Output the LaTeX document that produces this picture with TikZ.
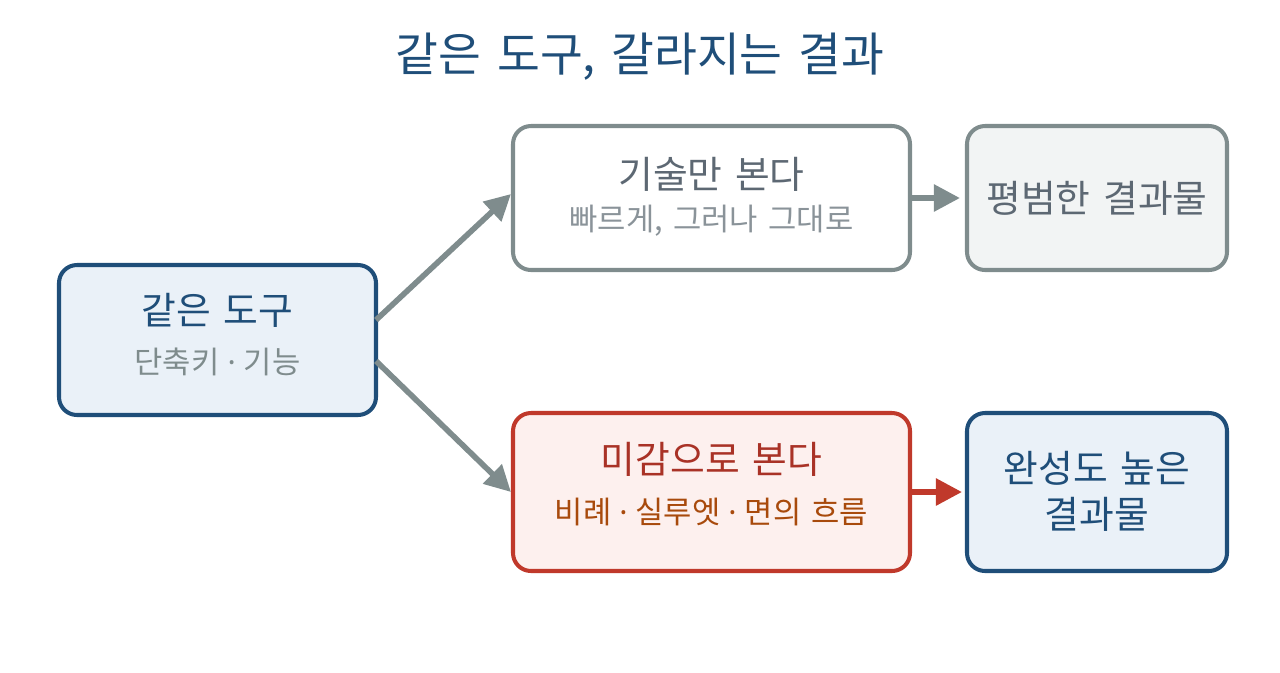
\documentclass[tikz,border=0pt]{standalone}
\usepackage{fontspec}
\setmainfont{Noto Sans CJK KR}[WordSpace=1.5]
\newfontfamily\latinfont{Noto Sans}
\usetikzlibrary{arrows.meta,calc}
\definecolor{navy}{HTML}{1F4E79}
\definecolor{lblue}{HTML}{EAF1F8}
\definecolor{gborder}{HTML}{7F8C8D}
\definecolor{gtext}{HTML}{5D6873}
\definecolor{gsub}{HTML}{8A9399}
\definecolor{lgray}{HTML}{F2F4F4}
\definecolor{rborder}{HTML}{C0392B}
\definecolor{rtext}{HTML}{A93226}
\definecolor{osub}{HTML}{A84A0C}
\definecolor{lred}{HTML}{FDF0EE}
\newcommand{\mdot}{{\latinfont\ ·\ }}
\tikzset{
  box/.style={draw, rounded corners=0.36cm, line width=2.3pt, inner sep=0pt},
  maintxt/.style={font=\fontsize{21.5}{24}\selectfont, inner sep=0pt},
  subtxt/.style={font=\fontsize{17.5}{20}\selectfont, inner sep=0pt},
  conn/.style={line width=3.2pt, -{Triangle[length=0.52cm,width=0.52cm]}},
}
\begin{document}
\begin{tikzpicture}
\useasboundingbox (0,0) rectangle (25.6,-13.44);
\node[font=\fontsize{26.5}{30}\selectfont, text=navy] (title) at (12.8,-1.14) {같은 도구, 갈라지는 결과};
% boxes
\node[box, fill=lblue, draw=navy, minimum width=6.34cm, minimum height=3.0cm] (L) at (4.35,-6.8) {};
\node[box, fill=white, draw=gborder, minimum width=7.94cm, minimum height=2.88cm] (T) at (14.23,-3.96) {};
\node[box, fill=lgray, draw=gborder, minimum width=5.2cm, minimum height=2.88cm] (TR) at (21.94,-3.96) {};
\node[box, fill=lred, draw=rborder, minimum width=7.94cm, minimum height=3.16cm] (B) at (14.23,-9.84) {};
\node[box, fill=lblue, draw=navy, minimum width=5.2cm, minimum height=3.16cm] (BR) at (21.94,-9.84) {};
% texts
\node[maintxt, text=navy] (Lm) at (4.35,-6.2) {같은 도구};
\node[subtxt, text=gborder] (Ls) at (4.35,-7.24) {단축키\mdot 기능};
\node[maintxt, text=gtext] (Tm) at (14.23,-3.48) {기술만 본다};
\node[subtxt, text=gsub] (Ts) at (14.23,-4.42) {빠르게, 그러나 그대로};
\node[maintxt, text=gtext] (TRm) at (21.94,-3.96) {평범한 결과물};
\node[maintxt, text=rtext] (Bm) at (14.23,-9.18) {미감으로 본다};
\node[subtxt, text=osub] (Bs) at (14.23,-10.24) {비례\mdot 실루엣\mdot 면의 흐름};
\node[maintxt, text=navy] (BRm1) at (21.94,-9.36) {완성도 높은};
\node[maintxt, text=navy] (BRm2) at (21.94,-10.28) {결과물};
% connectors
\coordinate (La) at ($(L.east)+(-0.04,0.4)$);
\coordinate (Lb) at ($(L.east)+(-0.04,-0.42)$);
\draw[conn, draw=gborder, color=gborder] (La) -- ($(T.west)+(0,0.08)$);
\draw[conn, draw=gborder, color=gborder] (Lb) -- (B.west);
\draw[conn, draw=gborder, color=gborder, shorten >=0.1cm] (T.east) -- (TR.west);
\draw[conn, draw=rborder, color=rborder, shorten >=0.06cm] (B.east) -- (BR.west);
\end{tikzpicture}
\end{document}
